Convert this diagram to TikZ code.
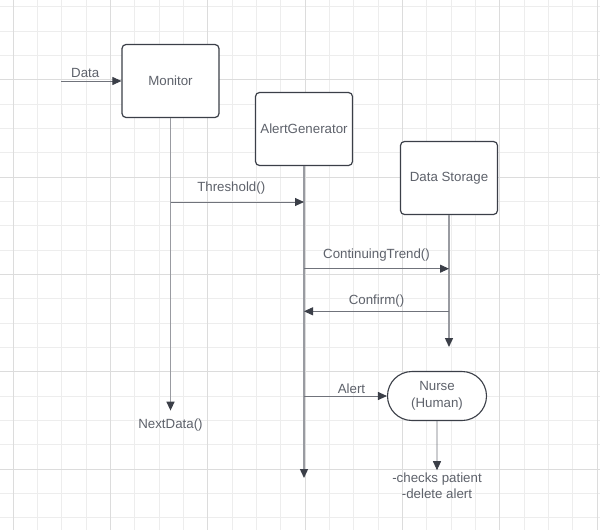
\documentclass[tikz,border=0pt]{standalone}
\usepackage{fontspec}
\setmainfont{Liberation Sans}
\usetikzlibrary{arrows.meta,shapes.misc}
\definecolor{gridminor}{HTML}{EDEDED}
\definecolor{gridmajor}{HTML}{DCDCDC}
\definecolor{ink}{HTML}{3B3F48}
\definecolor{txt}{HTML}{5E626B}
\definecolor{wire}{HTML}{70737B}
\definecolor{life}{HTML}{999BA1}
\begin{document}
\begin{tikzpicture}[x=1pt, y=-1pt, font=\fontsize{13.3}{16}\selectfont, line join=round,
  >={Triangle[length=9pt, width=8pt, color=ink]},
  box/.style={draw=ink, line width=1.2pt, rounded corners=4pt, fill=white, text=txt,
    minimum width=97pt, minimum height=73pt, inner sep=0pt},
  human/.style={rounded rectangle, draw=ink, line width=1.1pt, fill=white, text=txt,
    minimum width=99pt, minimum height=49pt, inner sep=0pt, align=center,
    font=\fontsize{13.3}{17}\selectfont},
  wire/.style={draw=wire, line width=0.9pt},
  lifeline/.style={draw=life, line width=1.4pt},
  lbl/.style={text=txt, inner sep=1pt}]
\useasboundingbox (0,0) rectangle (600,530);
\fill[white] (0,0) rectangle (600,530);
% grid
\foreach \k in {0,...,24} \draw[gridminor, line width=0.8pt] ({13+24.333*\k},0) -- ++(0,530);
\foreach \k in {0,...,21} \draw[gridminor, line width=0.8pt] (0,{6.7+24.333*\k}) -- ++(600,0);
\foreach \k in {0,4,...,24} \draw[gridmajor, line width=0.9pt] ({13+24.333*\k},0) -- ++(0,530);
\foreach \k in {3,7,...,19} \draw[gridmajor, line width=0.9pt] (0,{6.7+24.333*\k}) -- ++(600,0);

\path
(61,81) coordinate (dataIn)
(304,478) coordinate (agEnd)
(449,347) coordinate (dsEnd);
\node[box] (mon) at (170.5,81) {Monitor};
\node[box] (ag) at (304,129) {AlertGenerator};
\node[box] (ds) at (449,178) {Data Storage};
\node[human] (nurse) at (437,396) {Nurse\\(Human)};
\node[lbl] (nd) at (170.5,425) {NextData()};
\node[lbl, align=center] (note) at (437,485.3) {-checks patient\\-delete alert};

% lifelines
\draw[lifeline, ->, shorten >=7pt] (mon) -- (nd);
\draw[lifeline, ->] (ag) -- (agEnd);
\draw[lifeline, ->] (ds) -- (dsEnd);

% messages
\draw[wire, ->] (dataIn) -- (mon) node[lbl, midway, xshift=-6pt, yshift=8pt] {Data};
\draw[wire, ->] (mon |- 0,202) -- (ag |- 0,202) node[lbl, midway, xshift=-6pt, yshift=13.7pt] {Threshold()};
\draw[wire, ->] (ag |- 0,268.7) -- (ds |- 0,268.7) node[lbl, midway, yshift=13.7pt] {ContinuingTrend()};
\draw[wire, ->] (ds |- 0,311.3) -- (ag |- 0,311.3) node[lbl, midway, yshift=10.6pt] {Confirm()};
\draw[wire, ->] (ag |- 0,396) -- (nurse) node[lbl, midway, xshift=6pt, yshift=7.7pt] {Alert};
\draw[wire, ->, shorten >=1pt] (nurse) -- (note);
\end{tikzpicture}
\end{document}
